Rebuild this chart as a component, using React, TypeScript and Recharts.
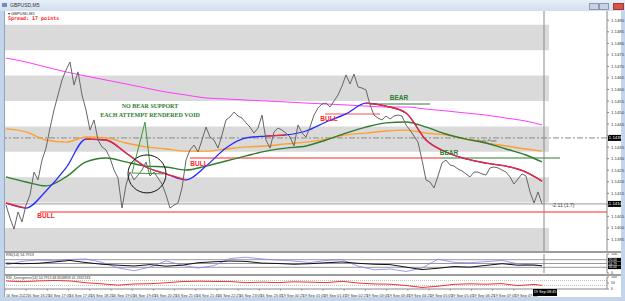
import React from "react";
import {
  ComposedChart,
  LineChart,
  Line,
  XAxis,
  YAxis,
  ReferenceArea,
  ReferenceLine,
  ReferenceDot,
} from "recharts";

// GBPUSD M5 closes, one every 2 bars
const closes = [
  1.14099, 1.14043, 1.13995, 1.14069, 1.14026, 1.14099, 1.14143, 1.14242, 1.14208, 1.14294,
  1.14346, 1.14433, 1.14511, 1.14576, 1.14641, 1.14684, 1.14719, 1.14619, 1.14676, 1.14576,
  1.14511, 1.14424, 1.14468, 1.14381, 1.14351, 1.14338, 1.14303, 1.14251, 1.14216, 1.14086,
  1.14186, 1.14242, 1.14208, 1.14229, 1.14251, 1.14286, 1.14225, 1.14242, 1.14216, 1.1419,
  1.14143, 1.14086, 1.14099, 1.14108, 1.14173, 1.14294, 1.14338, 1.14359, 1.14329, 1.14381,
  1.14437, 1.14394, 1.14381, 1.14346, 1.14403, 1.14468, 1.14481, 1.14502, 1.14485, 1.14476,
  1.14455, 1.14437, 1.14411, 1.14433, 1.14489, 1.14381, 1.14346, 1.14416, 1.14433, 1.14424,
  1.14411, 1.14394, 1.14355, 1.14446, 1.14411, 1.14394, 1.14437, 1.14489, 1.1452, 1.14537,
  1.14541, 1.14524, 1.1455, 1.14576, 1.14615, 1.14663, 1.14624, 1.14667, 1.14611, 1.14606,
  1.14598, 1.14533, 1.14489, 1.14476, 1.14468, 1.14485, 1.14472, 1.14485, 1.14489, 1.14485,
  1.14446, 1.14424, 1.14398, 1.14372, 1.14294, 1.14208, 1.14199, 1.14173, 1.14225, 1.14281,
  1.14294, 1.14273, 1.14268, 1.14255, 1.14247, 1.14234, 1.14221, 1.14242, 1.14242, 1.14234,
  1.14229, 1.1426, 1.14264, 1.1426, 1.14251, 1.14242, 1.14221, 1.1419, 1.14212, 1.14234,
  1.14225, 1.14156, 1.14108, 1.14156, 1.14104,
];

// moving averages, sampled every 5 points
const maIdx = [0, 5, 10, 15, 20, 25, 30, 35, 40, 45, 50, 55, 60, 65, 70, 75, 80, 85, 90, 95, 100, 105, 110, 115, 120, 125, 130, 134];
const maSlow = [
  1.14736, 1.14719, 1.14697, 1.14676, 1.14658, 1.14641, 1.14624, 1.14606, 1.14589, 1.14576,
  1.14563, 1.14559, 1.14554, 1.1455, 1.14546, 1.14541, 1.14537, 1.14533, 1.14528, 1.14524,
  1.14524, 1.14515, 1.14507, 1.14498, 1.14489, 1.14476, 1.14463, 1.14446,
];
const maMid = [
  1.14429, 1.14416, 1.14381, 1.14372, 1.14394, 1.1439, 1.14368, 1.14351, 1.14342, 1.14333,
  1.14333, 1.14342, 1.14351, 1.14355, 1.14364, 1.14372, 1.14385, 1.14403, 1.14411, 1.1442,
  1.14424, 1.14411, 1.14403, 1.14385, 1.14368, 1.14355, 1.14342, 1.14333,
];
const maFast = [
  1.14221, 1.14199, 1.14182, 1.14221, 1.14286, 1.14303, 1.14286, 1.14268, 1.14264, 1.14251,
  1.14268, 1.1429, 1.14312, 1.14333, 1.14346, 1.14355, 1.14381, 1.14411, 1.14437, 1.14455,
  1.14459, 1.14437, 1.14407, 1.14385, 1.14368, 1.14342, 1.14316, 1.14286,
];
const maTrend = [
  1.14108, 1.14086, 1.1416, 1.1426, 1.14385, 1.14381, 1.14325, 1.14264, 1.14234, 1.14208,
  1.14268, 1.14346, 1.1439, 1.14398, 1.14403, 1.1442, 1.14459, 1.14494, 1.14541, 1.14528,
  1.14498, 1.14381, 1.14329, 1.14299, 1.14281, 1.14268, 1.14242, 1.14203,
];
const trendDown = [[0, 1], [4, 9], [13, 14], [18, 27]];

// sub-window indicators, sampled every 4 points
const subIdx = [0, 4, 8, 12, 16, 20, 24, 28, 32, 36, 40, 44, 48, 52, 56, 60, 64, 68, 72, 76, 80, 84, 88, 92, 96, 100, 104, 108, 112, 116, 120, 124, 128, 132, 134];
const rsiMain = [52, 49, 51, 58, 66, 55, 46, 41, 37, 44, 36, 41, 54, 59, 63, 61, 52, 50, 46, 49, 54, 58, 51, 46, 44, 31, 18, 25, 34, 31, 40, 49, 41, 42, 38];
const rsiFast = [42, 61, 69, 64, 71, 74, 56, 27, 12, 31, 64, 41, 26, 39, 76, 83, 74, 68, 63, 55, 66, 70, 36, 17, 21, 8, 26, 73, 56, 54, 60, 66, 48, 41, 37];
const rsiDiv = [67, 61, 67, 71, 67, 52, 43, 32, 42, 44, 52, 62, 65, 63, 62, 53, 57, 53, 60, 57, 53, 64, 50, 42, 40, 29, 13, 23, 39, 43, 40, 45, 28, 38, 31];

const priceTicks = [1.1395, 1.14, 1.1405, 1.141, 1.1415, 1.142, 1.1425, 1.143, 1.1435, 1.144, 1.1445, 1.145, 1.1455, 1.146, 1.1465, 1.147, 1.1475, 1.148, 1.1485, 1.149];
const bands = [[1.1477, 1.1488], [1.1455, 1.1466], [1.1433, 1.1444], [1.1411, 1.1422], [1.139, 1.14]];
const pivot = 1.1439;
const bid = 1.14104;

const timeLabels = [
  "16 Sep 2022", "16 Sep 16:25", "16 Sep 17:05", "16 Sep 17:45", "16 Sep 18:25", "16 Sep 19:05",
  "16 Sep 19:45", "16 Sep 20:25", "16 Sep 21:05", "16 Sep 21:45", "16 Sep 22:25", "16 Sep 23:05",
  "16 Sep 23:45", "19 Sep 00:25", "19 Sep 01:05", "19 Sep 01:45", "19 Sep 02:25", "19 Sep 03:05",
  "19 Sep 03:45", "19 Sep 04:25", "19 Sep 05:05", "19 Sep 05:45", "19 Sep 06:25", "19 Sep 07:05",
  "19 Sep 07:45",
];

const RED = "#ff2424";
const GREEN = "#2e7d2e";
const FONT = "'Liberation Sans', Arial, sans-serif";
const X_DOMAIN = [-0.25, 150.25];
const NOW = 134.5;

const closeData = closes.map((v, i) => ({ i, v }));
const toSeries = (idx: number[], vals: (number | null)[]) => idx.map((i, k) => ({ i, v: vals[k] }));
const isDown = (k: number) => trendDown.some(([a, b]) => k >= a && k <= b);
const trendRed = maTrend.map((v, k) => (isDown(k) ? v : null));
const timeTicks = timeLabels.map((_, k) => k * 5.3 - 0.25);
// the black tags on the price scale hide the tick labels they cover
const priceLabel = (v: number) =>
  Math.abs(v - pivot) < 0.0002 || Math.abs(v - bid) < 0.0002 ? "" : v.toFixed(4);

function AxisTag({ viewBox, text, h = 6, size = 4.3 }: any) {
  if (!viewBox) return null;
  const x = viewBox.x + viewBox.width;
  const y = viewBox.y;
  return (
    <g>
      <rect x={x + 1} y={y - h / 2} width={13} height={h} fill="#000" />
      <text x={x + 1.8} y={y + size * 0.36} fill="#fff" fontSize={size} fontFamily={FONT}>
        {text}
      </text>
    </g>
  );
}

function TimeTick({ x, y, payload, index }: any) {
  const k = index ?? timeTicks.indexOf(payload.value);
  return (
    <text x={x + 1} y={y + 4} fontSize={3.8} fill="#333" fontFamily={FONT}>
      {timeLabels[k]}
    </text>
  );
}

const note = (text: string, fill: string, size: number, bold = true, family = FONT) => ({
  value: text,
  position: "center" as const,
  fill,
  fontSize: size,
  fontWeight: bold ? "bold" : "normal",
  fontFamily: family,
});

type Seg = { y: number; from: number; to: number; color: string; w?: number };
const levels: Seg[] = [
  { y: 1.14069, from: 8.5, to: 150.25, color: RED },
  { y: 1.14303, from: 46, to: 109, color: RED },
  { y: 1.14494, from: 79.75, to: 93.5, color: "#ff8a8a", w: 1.5 },
  { y: 1.14303, from: 109, to: 138.5, color: GREEN },
  { y: 1.14537, from: 91, to: 106, color: GREEN },
];

export default function App() {
  return (
    <div style={{ position: "absolute", left: 0, top: 0, width: 625, height: 301, background: "#c3d5eb", overflow: "hidden", fontFamily: FONT }}>
      {/* title bar */}
      <div style={{ position: "absolute", left: 0, top: 0, width: 625, height: 11, background: "linear-gradient(#e7eef8, #d2dfef)" }} />
      <div style={{ position: "absolute", left: 2, top: 3, width: 5, height: 4, background: "#6a8fc0" }} />
      <div style={{ position: "absolute", left: 10, top: 2, fontSize: 5, color: "#333", lineHeight: "6px" }}>GBPUSD,M5</div>
      <div style={{ position: "absolute", left: 589, top: 3, width: 8, height: 5, background: "#c8d3e2", border: "0.5px solid #8c9bb0" }} />
      <div style={{ position: "absolute", left: 599, top: 3, width: 8, height: 5, background: "#c8d3e2", border: "0.5px solid #8c9bb0" }} />
      <div style={{ position: "absolute", left: 613, top: 3, width: 9, height: 5, background: "#d9534a", border: "0.5px solid #9b3b33" }} />

      {/* window body */}
      <div style={{ position: "absolute", left: 5, top: 11, width: 616, height: 286, background: "#fff" }} />
      <div style={{ position: "absolute", left: 4, top: 11, width: 1, height: 286, background: "#8fa4c0" }} />

      <div style={{ position: "absolute", left: 5, top: 11 }}>
        <ComposedChart width={620} height={240} margin={{ top: 0, right: 5, bottom: 0, left: 0 }}>
          <XAxis type="number" dataKey="i" domain={X_DOMAIN} hide allowDataOverflow />
          <YAxis
            orientation="right"
            width={13}
            domain={[1.139, 1.1494]}
            allowDataOverflow
            ticks={priceTicks}
            interval={0}
            tickSize={2}
            tick={{ fontSize: 4.3, fill: "#333", fontFamily: FONT }}
            tickFormatter={priceLabel}
            axisLine={{ stroke: "#888" }}
            tickLine={{ stroke: "#888" }}
          />
          {bands.map(([a, b], k) => (
            <ReferenceArea key={k} x1={-0.25} x2={135.75} y1={a} y2={b} fill="#dadada" fillOpacity={1} stroke="none" />
          ))}
          <ReferenceLine y={pivot} stroke="#8a8a8a" strokeDasharray="6 2 2 2" label={<AxisTag text={pivot.toFixed(4)} />} />
          <ReferenceLine y={bid} stroke="#999" label={<AxisTag text={bid.toFixed(4)} />} />
          {levels.map((s, k) => (
            <ReferenceLine
              key={k}
              segment={[{ x: s.from, y: s.y }, { x: s.to, y: s.y }]}
              stroke={s.color}
              strokeWidth={s.w ?? 1}
            />
          ))}
          <Line data={toSeries(maIdx, maSlow)} dataKey="v" type="monotone" stroke="#ff3cff" strokeWidth={1} dot={false} isAnimationActive={false} />
          <Line data={toSeries(maIdx, maMid)} dataKey="v" type="monotone" stroke="#ff9f2e" strokeWidth={1.4} dot={false} isAnimationActive={false} />
          <Line data={toSeries(maIdx, maFast)} dataKey="v" type="monotone" stroke={GREEN} strokeWidth={1.4} dot={false} isAnimationActive={false} />
          <Line data={toSeries(maIdx, maTrend)} dataKey="v" type="monotone" stroke="#2a2aff" strokeWidth={1.3} dot={false} isAnimationActive={false} />
          <Line data={toSeries(maIdx, trendRed)} dataKey="v" type="monotone" stroke={RED} strokeWidth={1.3} dot={false} isAnimationActive={false} />
          <Line data={closeData} dataKey="v" type="linear" stroke="#666" strokeWidth={1} dot={false} isAnimationActive={false} />

          {/* hand drawn annotations */}
          <ReferenceLine segment={[{ x: 34.75, y: 1.14459 }, { x: 31.5, y: 1.14238 }]} stroke="#3a9a3a" />
          <ReferenceLine segment={[{ x: 34.75, y: 1.14459 }, { x: 36.25, y: 1.14234 }]} stroke="#3a9a3a" />
          <ReferenceLine segment={[{ x: 31.5, y: 1.14238 }, { x: 39.5, y: 1.14234 }]} stroke="#3a9a3a" />
          <ReferenceDot x={35.25} y={1.14234} r={19} fill="none" stroke="#111" strokeWidth={1} />

          <ReferenceDot x={10} y={1.14052} r={0} fill="none" stroke="none" label={note("BULL", RED, 6.5)} />
          <ReferenceDot x={48.25} y={1.14277} r={0} fill="none" stroke="none" label={note("BULL", RED, 6.5)} />
          <ReferenceDot x={80.75} y={1.14472} r={0} fill="none" stroke="none" label={note("BULL", RED, 6.5)} />
          <ReferenceDot x={98.25} y={1.14563} r={0} fill="none" stroke="none" label={note("BEAR", GREEN, 6.5)} />
          <ReferenceDot x={110.75} y={1.14325} r={0} fill="none" stroke="none" label={note("BEAR", GREEN, 6.5)} />
          <ReferenceDot x={36} y={1.14528} r={0} fill="none" stroke="none" label={note("NO BEAR SUPPORT", GREEN, 6, true, "'Liberation Serif', serif")} />
          <ReferenceDot x={36} y={1.14489} r={0} fill="none" stroke="none" label={note("EACH ATTEMPT RENDERED VOID", GREEN, 6, true, "'Liberation Serif', serif")} />
          <ReferenceDot x={120.25} y={1.14377} r={0} fill="none" stroke="none" label={note("Daily Pivot", "#555", 4, false)} />
          <ReferenceDot x={139.25} y={1.14099} r={0} fill="none" stroke="none" label={note("-2.11 (1.7)", "#444", 5, false)} />

          <ReferenceLine x={NOW} stroke="#888" />
        </ComposedChart>
      </div>

      {/* header texts */}
      <div style={{ position: "absolute", left: 8, top: 11, fontSize: 4, color: "#222", lineHeight: "5px" }}>▾ GBPUSD,M5</div>
      <div style={{ position: "absolute", left: 8, top: 15, fontSize: 5, color: RED, fontWeight: "bold", fontFamily: "'DejaVu Sans Mono', monospace", lineHeight: "6px" }}>
        Spread: 17 points
      </div>

      {/* separators */}
      <div style={{ position: "absolute", left: 5, top: 251, width: 616, height: 2, background: "#9c9c9c" }} />
      <div style={{ position: "absolute", left: 5, top: 274, width: 616, height: 2, background: "#9c9c9c" }} />

      <div style={{ position: "absolute", left: 5, top: 253 }}>
        <LineChart width={620} height={21} margin={{ top: 1, right: 5, bottom: 1, left: 0 }}>
          <XAxis type="number" dataKey="i" domain={X_DOMAIN} hide allowDataOverflow />
          <YAxis
            orientation="right"
            width={13}
            domain={[0, 100]}
            ticks={[0, 100]}
            interval={0}
            tickSize={2}
            tick={{ fontSize: 3.6, fill: "#333", fontFamily: FONT }}
            axisLine={{ stroke: "#888" }}
            tickLine={{ stroke: "#888" }}
          />
          <ReferenceLine y={70} stroke="#999" label={<AxisTag text="70.00" h={3.6} size={3.2} />} />
          <ReferenceLine y={50} stroke="#999" label={<AxisTag text="54.79" h={3.6} size={3.2} />} />
          <ReferenceLine y={30} stroke="#999" label={<AxisTag text="30.00" h={3.6} size={3.2} />} />
          <Line data={toSeries(subIdx, rsiFast)} dataKey="v" type="linear" stroke="#8080ff" strokeWidth={0.8} dot={false} isAnimationActive={false} />
          <Line data={toSeries(subIdx, rsiMain)} dataKey="v" type="linear" stroke="#111" strokeWidth={1} dot={false} isAnimationActive={false} />
          <ReferenceLine x={NOW} stroke="#888" />
        </LineChart>
      </div>
      <div style={{ position: "absolute", left: 6, top: 253, fontSize: 3.8, color: "#333", lineHeight: "4px" }}>RSI(14) 54.7913</div>

      <div style={{ position: "absolute", left: 5, top: 276 }}>
        <LineChart width={620} height={21} margin={{ top: 1, right: 5, bottom: 0, left: 0 }}>
          <XAxis
            type="number"
            dataKey="i"
            domain={X_DOMAIN}
            allowDataOverflow
            ticks={timeTicks}
            interval={0}
            height={8}
            tickSize={1.5}
            tick={<TimeTick />}
            axisLine={{ stroke: "#888" }}
            tickLine={{ stroke: "#888" }}
          />
          <YAxis
            orientation="right"
            width={13}
            domain={[0, 100]}
            ticks={[0, 50, 100]}
            interval={0}
            tickSize={2}
            tick={{ fontSize: 3.5, fill: "#333", fontFamily: FONT }}
            axisLine={{ stroke: "#888" }}
            tickLine={{ stroke: "#888" }}
          />
          <ReferenceLine y={70} stroke="#bbb" strokeDasharray="1 1" />
          <ReferenceLine y={30} stroke="#bbb" strokeDasharray="1 1" />
          <Line data={toSeries(subIdx, rsiDiv)} dataKey="v" type="linear" stroke="#e33" strokeWidth={1} dot={false} isAnimationActive={false} />
        </LineChart>
      </div>
      <div style={{ position: "absolute", left: 6, top: 276, fontSize: 3.5, color: "#333", lineHeight: "4px", whiteSpace: "nowrap" }}>
        RSI_Divergence(14) 54.7913 48.8208859 41.1932133
      </div>
      <div style={{ position: "absolute", left: 533, top: 289, width: 24, height: 7, background: "#000", color: "#fff", fontSize: 3.8, lineHeight: "7px", textAlign: "center" }}>
        19 Sep 08:45
      </div>
    </div>
  );
}
